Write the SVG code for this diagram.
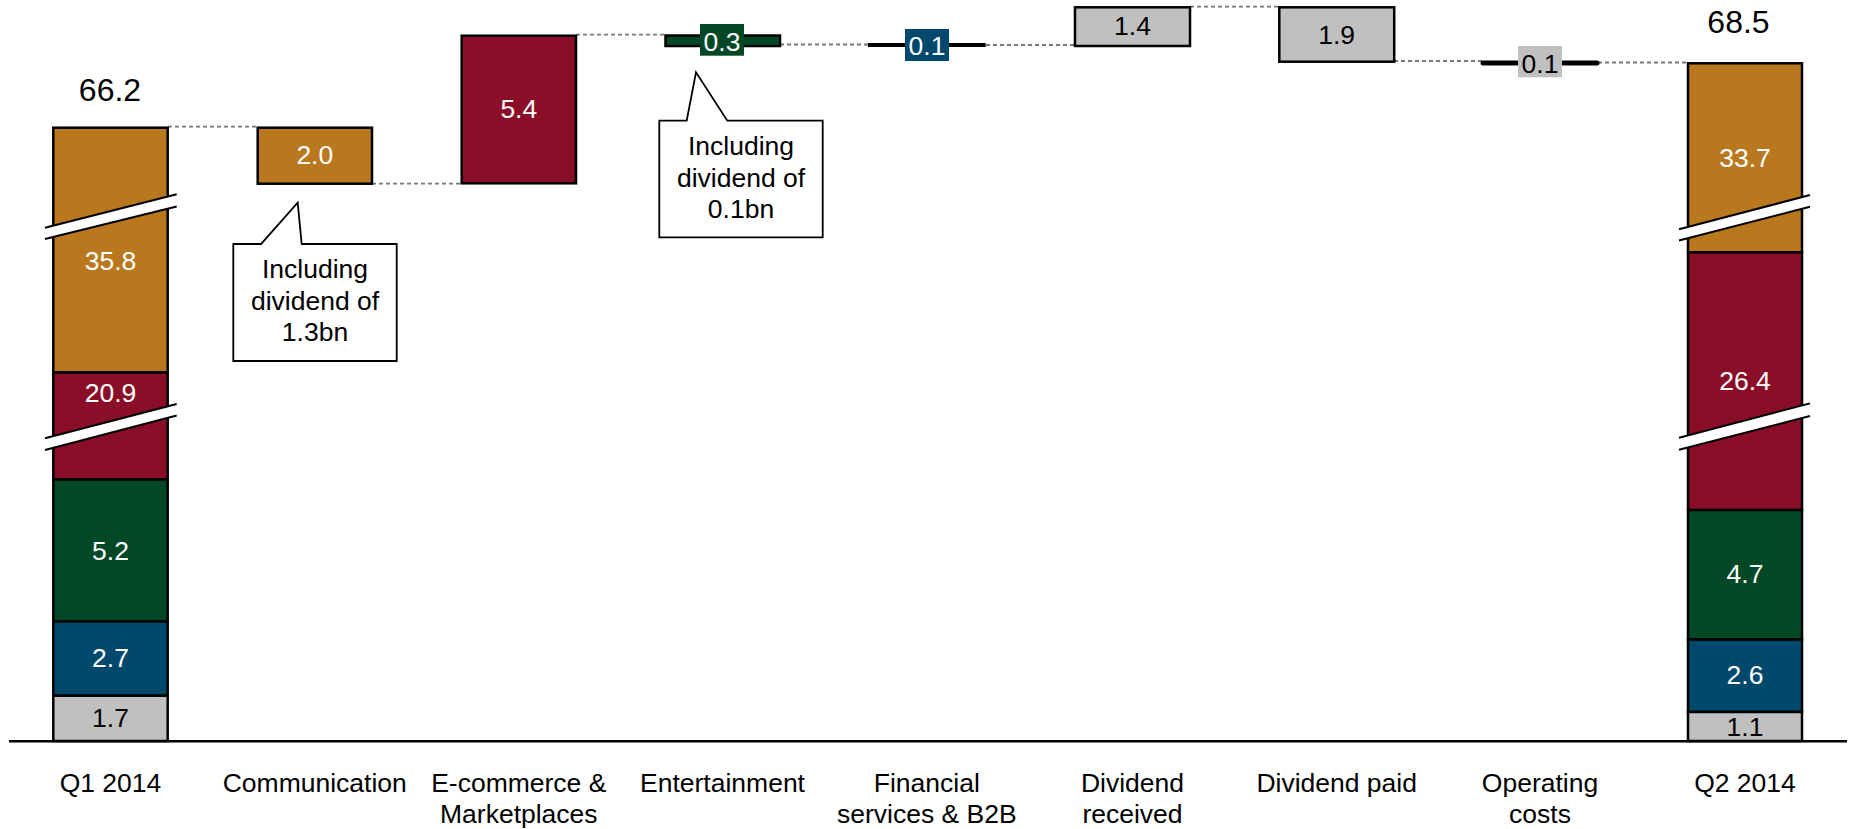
<svg xmlns="http://www.w3.org/2000/svg" width="1860" height="829" viewBox="0 0 1860 829">
<style>
text{font-family:"Liberation Sans",Arial,sans-serif;font-size:26.5px;text-anchor:middle}
.w{fill:#fff}.k{fill:#000}
.big{font-size:32px}
.seg{stroke:#000;stroke-width:2.5}
.or{fill:#BA781E}.rd{fill:#8B0E28}.gr{fill:#024726}.bl{fill:#00486C}.gy{fill:#C0C0C0}
.dash{stroke:#777;stroke-width:1.8;stroke-dasharray:4 3;fill:none}
.brk{fill:#fff}
.brkl{stroke:#000;stroke-width:2;fill:none}
.call{fill:#fff;stroke:#000;stroke-width:1.8}
</style>
<rect width="1860" height="829" fill="#fff"/>
<g id="connectors">
<line class="dash" x1="168" y1="126.7" x2="258" y2="126.7"/>
<line class="dash" x1="372" y1="183.7" x2="462" y2="183.7"/>
<line class="dash" x1="576" y1="34.7" x2="665" y2="34.7"/>
<line class="dash" x1="780" y1="44.5" x2="868" y2="44.5"/>
<line class="dash" x1="986" y1="45" x2="1075" y2="45"/>
<line class="dash" x1="1190" y1="6.7" x2="1279" y2="6.7"/>
<line class="dash" x1="1394" y1="61" x2="1482" y2="61"/>
<line class="dash" x1="1598" y1="62.5" x2="1688" y2="62.5"/>
</g>
<g id="q1">
<rect class="seg or" x="53.3" y="127.7" width="114.4" height="244.8"/>
<rect class="seg rd" x="53.3" y="372.5" width="114.4" height="107"/>
<rect class="seg gr" x="53.3" y="479.5" width="114.4" height="142"/>
<rect class="seg bl" x="53.3" y="621.5" width="114.4" height="74.2"/>
<rect class="seg gy" x="53.3" y="695.7" width="114.4" height="45.3"/>
<polygon class="brk" points="45,227.7 176.7,194.3 176.7,206.5 45,239"/>
<line class="brkl" x1="45" y1="227.7" x2="176.7" y2="194.3"/>
<line class="brkl" x1="45" y1="239" x2="176.7" y2="206.5"/>
<polygon class="brk" points="45,438.3 176.7,404 176.7,415.5 45,450"/>
<line class="brkl" x1="45" y1="438.3" x2="176.7" y2="404"/>
<line class="brkl" x1="45" y1="450" x2="176.7" y2="415.5"/>
<text class="big k" x="110" y="100.7">66.2</text>
<text class="w" x="110.5" y="270">35.8</text>
<text class="w" x="110.5" y="402.3">20.9</text>
<text class="w" x="110.5" y="560">5.2</text>
<text class="w" x="110.5" y="667.3">2.7</text>
<text class="k" x="110.5" y="727.3">1.7</text>
</g>
<g id="communication">
<rect class="seg or" x="257.7" y="127.7" width="114.3" height="56"/>
<text class="w" x="314.8" y="164">2.0</text>
</g>
<g id="callout1">
<path class="call" d="M233.3,244 L261,244 L297.7,202.7 L301.7,244 L396.7,244 L396.7,361 L233.3,361 Z"/>
<text class="k" x="315" y="278.3">Including</text>
<text class="k" x="315" y="309.5">dividend of</text>
<text class="k" x="315" y="341">1.3bn</text>
</g>
<g id="ecommerce">
<rect class="seg rd" x="461.7" y="35.7" width="114.3" height="147.6"/>
<text class="w" x="518.8" y="118.3">5.4</text>
</g>
<g id="entertainment">
<rect class="seg gr" x="665.5" y="35.5" width="114.5" height="10.5"/>
<rect class="gr" x="700" y="24" width="44" height="31.7"/>
<text class="w" x="722" y="51">0.3</text>
</g>
<g id="callout2">
<path class="call" d="M659.3,120.7 L686.7,120.7 L696,72.3 L727.3,120.7 L822.7,120.7 L822.7,237.3 L659.3,237.3 Z"/>
<text class="k" x="741" y="155">Including</text>
<text class="k" x="741" y="186.7">dividend of</text>
<text class="k" x="741" y="218.3">0.1bn</text>
</g>
<g id="financial">
<line x1="868" y1="45" x2="985.7" y2="45" stroke="#000" stroke-width="4"/>
<rect class="bl" x="905" y="29" width="44" height="32"/>
<text class="w" x="927" y="54.5">0.1</text>
</g>
<g id="dividend-received">
<rect class="seg gy" x="1075" y="7.3" width="115" height="38.7"/>
<text class="k" x="1132.5" y="35">1.4</text>
</g>
<g id="dividend-paid">
<rect class="seg gy" x="1279.3" y="7.3" width="114.9" height="54.4"/>
<text class="k" x="1336.7" y="44">1.9</text>
</g>
<g id="operating-costs">
<line x1="1483" y1="63" x2="1597" y2="63" stroke="#000" stroke-width="5" stroke-linecap="round"/>
<rect class="gy" x="1518" y="46" width="44" height="31.3"/>
<text class="k" x="1540" y="73">0.1</text>
</g>
<g id="q2">
<rect class="seg or" x="1688" y="63.3" width="114" height="189"/>
<rect class="seg rd" x="1688" y="252.3" width="114" height="257.7"/>
<rect class="seg gr" x="1688" y="510" width="114" height="129.6"/>
<rect class="seg bl" x="1688" y="639.6" width="114" height="72.4"/>
<rect class="seg gy" x="1688" y="712" width="114" height="29"/>
<polygon class="brk" points="1679,229.3 1810,195 1810,206.7 1679,240.5"/>
<line class="brkl" x1="1679" y1="229.3" x2="1810" y2="195"/>
<line class="brkl" x1="1679" y1="240.5" x2="1810" y2="206.7"/>
<polygon class="brk" points="1679,437.8 1810,403.4 1810,416 1679,449.8"/>
<line class="brkl" x1="1679" y1="437.8" x2="1810" y2="403.4"/>
<line class="brkl" x1="1679" y1="449.8" x2="1810" y2="416"/>
<text class="big k" x="1738.5" y="33.3">68.5</text>
<text class="w" x="1745" y="166.7">33.7</text>
<text class="w" x="1745" y="389.7">26.4</text>
<text class="w" x="1745" y="582.9">4.7</text>
<text class="w" x="1745" y="684.3">2.6</text>
<text class="k" x="1745" y="735.9">1.1</text>
</g>
<g id="axis">
<line x1="9" y1="741.2" x2="1847" y2="741.2" stroke="#000" stroke-width="2.5"/>
</g>
<g id="labels">
<text class="k" x="110.5" y="791.7">Q1 2014</text>
<text class="k" x="314.8" y="791.7">Communication</text>
<text class="k" x="518.8" y="791.7">E-commerce &amp;</text>
<text class="k" x="518.8" y="822.8">Marketplaces</text>
<text class="k" x="722.5" y="791.7">Entertainment</text>
<text class="k" x="926.8" y="791.7">Financial</text>
<text class="k" x="926.8" y="822.8">services &amp; B2B</text>
<text class="k" x="1132.5" y="791.7">Dividend</text>
<text class="k" x="1132.5" y="822.8">received</text>
<text class="k" x="1336.7" y="791.7">Dividend paid</text>
<text class="k" x="1540" y="791.7">Operating</text>
<text class="k" x="1540" y="822.8">costs</text>
<text class="k" x="1745" y="791.7">Q2 2014</text>
</g>
</svg>
